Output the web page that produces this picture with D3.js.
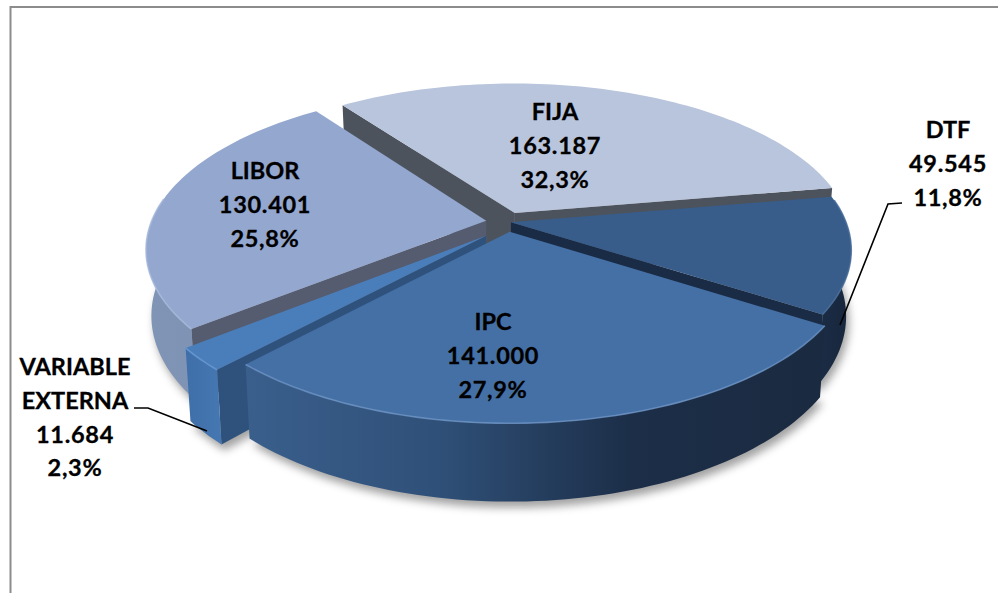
<!DOCTYPE html>
<html><head><meta charset="utf-8">
<script src="https://cdn.jsdelivr.net/npm/d3@7/dist/d3.min.js"></script>
<style>html,body{margin:0;padding:0;background:#fff;overflow:hidden}svg{display:block}</style>
</head><body><div id="chart"></div>
<script>
const categories = ["FIJA","DTF","IPC","VARIABLE EXTERNA","LIBOR"];
const amounts = ["163.187","49.545","141.000","11.684","130.401"];
const percents = [32.3,11.8,27.9,2.3,25.8];
const explode = [21,4,21,36,21];
const explodeDir = [null,null,null,215,null];
const topColors = ["#b9c5dc","#385d8a","#4570a6","#4a7ebb","#93a7cf"];
const rimColors = ["#c9d3e6","#4a6f9c","#6d94c4","#6a9bd4","#a9bbdd"];
const cutColors = ["#4c535d","#1a2b45","#1a2b45","#2f527c","#555c70"];
const wallStops = [
  ["#7f8da6","#7f8da6"],
  ["#1b2c46","#17263b"],
  ["#3a5f8c","#2f5078","#1c2e48","#1a2a40"],
  ["#3f6fa8","#4577b2"],
  ["#8095b6","#7b90b2"]
];
const drawOrder = [0,1,4,3,2];

const W=998,H=593,cx=507,cy=222,R=335,ky=0.462,p=0.1725/335,wallH=64,shrink=0.015;
const svg=d3.select("#chart").append("svg").attr("width",W).attr("height",H);
const defs=svg.append("defs");
defs.append("filter").attr("id","soft").attr("x","-20%").attr("y","-20%").attr("width","140%").attr("height","140%")
  .append("feGaussianBlur").attr("stdDeviation",4);
svg.append("rect").attr("width",W).attr("height",H).attr("fill","#fff");
svg.append("path").attr("d",`M10.5 ${H} V7 H${W}`).attr("fill","none").attr("stroke","#8c8c8c").attr("stroke-width",2);

const rad=d3.scaleLinear().domain([0,360]).range([0,2*Math.PI]);
const pie=d3.pie().value(d=>d).sort(null).startAngle(rad(-36)).endAngle(rad(324));
const arcs=pie(percents);
function project(X,Y,z){
  const f=1/(1-p*Y);
  let sx=cx+X*f, sy=cy+ky*Y*f;
  if(z){ sx=cx+(sx-cx)*(1-shrink); sy+=wallH*f; }
  return [sx,sy];
}
function slicePoint(i,a,r,z){
  const m=explodeDir[i]===null?(arcs[i].startAngle+arcs[i].endAngle)/2:rad(explodeDir[i]), e=explode[i];
  return project(e*Math.sin(m)+r*Math.sin(a), -e*Math.cos(m)-r*Math.cos(a), z);
}
const line=d3.line();
function angles(i){
  const a0=arcs[i].startAngle,a1=arcs[i].endAngle,n=Math.max(8,Math.ceil((a1-a0)*40));
  return d3.range(n+1).map(k=>a0+(a1-a0)*k/n);
}
const frontFacing=a=>-Math.cos(a)>-0.15;
const shadow=svg.append("g").attr("filter","url(#soft)").attr("opacity",0.55).attr("transform","translate(3,6)");
drawOrder.forEach(i=>{
  const bot=angles(i).map(a=>slicePoint(i,a,R,1));
  shadow.append("path").attr("d",line(bot.concat([slicePoint(i,0,0,1)]))+"Z").attr("fill","#555");
});
const g=svg.append("g");
drawOrder.forEach(i=>{
  const as=angles(i);
  const top=as.map(a=>slicePoint(i,a,R,0)),bot=as.map(a=>slicePoint(i,a,R,1));
  const vis=as.filter(frontFacing);
  const tip0=slicePoint(i,0,0,0),tip1=slicePoint(i,0,0,1);
  const xs=top.map(d=>d[0]).concat(bot.map(d=>d[0]));
  const grad=defs.append("linearGradient").attr("id","wall"+i).attr("gradientUnits","userSpaceOnUse")
    .attr("x1",d3.min(xs)).attr("x2",d3.max(xs)).attr("y1",0).attr("y2",0);
  wallStops[i].forEach((c,k)=>grad.append("stop").attr("offset",k/(wallStops[i].length-1)).attr("stop-color",c));
  [[top[0],bot[0],0],[top[top.length-1],bot[bot.length-1],1]].forEach(([t,b,side])=>{
    const quad=[tip0,t,b,tip1];
    const area=d3.polygonArea(quad)*(side?1:-1);
    if(area<0) g.append("path").attr("d",line(quad)+"Z").attr("fill",cutColors[i]);
  });
  if(vis.length){
    const vt=vis.map(a=>slicePoint(i,a,R,0)),vb=vis.map(a=>slicePoint(i,a,R,1));
    g.append("path").attr("d",line(vt.concat(vb.reverse()))+"Z").attr("fill",`url(#wall${i})`);
  }
  g.append("path").attr("d",line(top.concat([tip0]))+"Z").attr("fill",topColors[i]);
  if(vis.length) g.append("path").attr("d",line(vis.map(a=>slicePoint(i,a,R,0)))).attr("fill","none")
    .attr("stroke",rimColors[i]).attr("stroke-width",1.6).attr("stroke-opacity",0.8);
});

const leaders=[[[902,203],[888,204],[840,325]],[[134,408],[148,408],[207,431]]];
leaders.forEach(l=>svg.append("path").attr("d",line(l)).attr("fill","none").attr("stroke","#000").attr("stroke-width",1.6));

const labelAnchor=[[555,112],[948,130],[493,322],[75,367],[265,171]];
const labelFont=23.5,lineGap=33.8;
categories.forEach((c,i)=>{
  const names=c.split(" ");
  const lines=names.concat([amounts[i], String(percents[i]).replace(".",",")+"%"]);
  const t=svg.append("text").attr("text-anchor","middle").attr("font-family","Lato, 'Open Sans', sans-serif")
    .attr("font-weight",700).attr("font-size",labelFont).attr("fill","#000")
    .attr("stroke","#000").attr("stroke-width",0.3);
  lines.forEach((s,k)=>t.append("tspan").attr("x",labelAnchor[i][0]).attr("y",labelAnchor[i][1]+8+k*lineGap)
    .attr("letter-spacing",k>=names.length?0.7:0).text(s));
});
</script></body></html>
